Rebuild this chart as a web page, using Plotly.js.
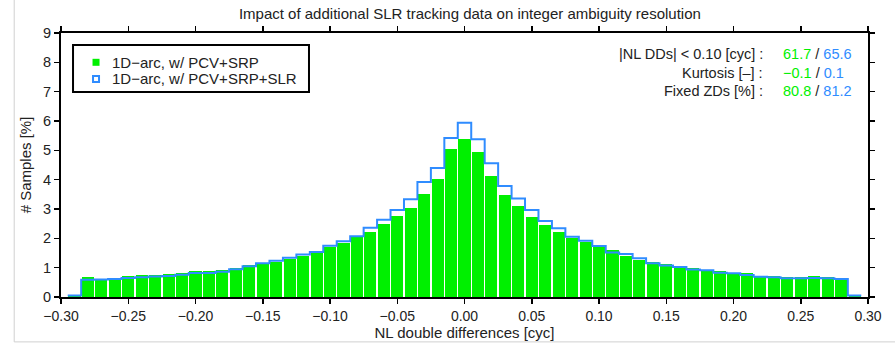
<!DOCTYPE html>
<html>
<head>
<meta charset="utf-8">
<script src="https://cdn.plot.ly/plotly-3.0.1.min.js"></script>
<style>html,body{margin:0;padding:0;background:#fff;}#chart{width:895px;height:348px;}</style>
</head>
<body>
<div id="chart"></div>
<script>
// Bin centres [cyc]
var binCenters = [-0.29,-0.28,-0.27,-0.26,-0.25,-0.24,-0.23,-0.22,-0.21,-0.20,
  -0.19,-0.18,-0.17,-0.16,-0.15,-0.14,-0.13,-0.12,-0.11,-0.10,
  -0.09,-0.08,-0.07,-0.06,-0.05,-0.04,-0.03,-0.02,-0.01,0.00,
  0.01,0.02,0.03,0.04,0.05,0.06,0.07,0.08,0.09,0.10,
  0.11,0.12,0.13,0.14,0.15,0.16,0.17,0.18,0.19,0.20,
  0.21,0.22,0.23,0.24,0.25,0.26,0.27,0.28,0.29];
var binWidth = 0.01;

// 1D-arc, w/ PCV+SRP  [% samples]
var pcvSrp = [0.03,0.68,0.62,0.62,0.72,0.75,0.76,0.78,0.81,0.87,
  0.88,0.91,1.00,1.10,1.12,1.20,1.30,1.41,1.52,1.72,
  1.83,2.04,2.20,2.48,2.77,3.05,3.50,4.01,5.03,5.37,
  4.95,4.12,3.48,3.10,2.72,2.45,2.20,2.02,1.89,1.72,
  1.60,1.41,1.26,1.20,1.11,1.07,1.00,0.93,0.89,0.83,
  0.81,0.73,0.70,0.67,0.69,0.70,0.67,0.64,0.03];

// 1D-arc, w/ PCV+SRP+SLR  [% samples]
var pcvSrpSlr = [0.05,0.59,0.60,0.61,0.65,0.67,0.70,0.72,0.76,0.82,
  0.82,0.86,0.95,1.05,1.15,1.24,1.34,1.45,1.53,1.75,
  1.90,2.07,2.36,2.63,2.97,3.33,3.92,4.40,5.42,5.94,
  5.38,4.56,3.78,3.36,2.97,2.59,2.34,2.05,1.92,1.74,
  1.52,1.47,1.32,1.15,1.07,1.02,0.94,0.91,0.83,0.81,
  0.75,0.69,0.67,0.64,0.64,0.65,0.64,0.61,0.05];

var seriesNames = ['1D\u2212arc, w/ PCV+SRP', '1D\u2212arc, w/ PCV+SRP+SLR'];
var xTickVals = [-0.30,-0.25,-0.20,-0.15,-0.10,-0.05,0.00,0.05,0.10,0.15,0.20,0.25,0.30];
var xTickText = ['\u22120.30','\u22120.25','\u22120.20','\u22120.15','\u22120.10','\u22120.05','0.00','0.05','0.10','0.15','0.20','0.25','0.30'];
var statLabels = ['|NL DDs| < 0.10 [cyc] :', 'Kurtosis [\u2013] :', 'Fixed ZDs [%] :'];
var statGreen = ['61.7', '\u22120.1', '80.8'];
var statBlue = ['65.6', '0.1', '81.2'];

var GREEN = '#00f000';
var BLUE = '#2f8cff';
var FONT = 'Liberation Sans, Arial, sans-serif';
var TXT = '#222';

// step outline for second series built from the bin edges
var stepX = [], stepY = [];
for (var i = 0; i < binCenters.length; i++) {
  stepX.push(binCenters[i] - binWidth / 2);
  stepY.push(pcvSrpSlr[i]);
}
stepX.push(binCenters[binCenters.length - 1] + binWidth / 2);
stepY.push(pcvSrpSlr[pcvSrpSlr.length - 1]);

var traces = [
  {type: 'bar', x: binCenters, y: pcvSrp, width: binWidth * 0.9, name: seriesNames[0],
   marker: {color: GREEN, line: {width: 0}}, showlegend: false},
  {type: 'scatter', mode: 'lines', x: stepX, y: stepY, name: seriesNames[1],
   line: {color: BLUE, width: 2, shape: 'hv'}, showlegend: false}
];

var annotations = [];
var rowY = [0.920, 0.850, 0.780];
for (var k = 0; k < statLabels.length; k++) {
  annotations.push({xref: 'paper', yref: 'paper', x: 0.872, y: rowY[k], xanchor: 'right', yanchor: 'middle',
    text: statLabels[k], showarrow: false, font: {family: FONT, size: 14.5, color: TXT}});
  annotations.push({xref: 'paper', yref: 'paper', x: 0.892, y: rowY[k], xanchor: 'left', yanchor: 'middle',
    text: '<span style="color:' + GREEN + '">' + statGreen[k] + '</span> / <span style="color:' + BLUE + '">' + statBlue[k] + '</span>',
    showarrow: false, font: {family: FONT, size: 14.5, color: TXT}});
}

// manual legend (box, symbols, labels)
var legX = 0.0434, legTextX = 0.0607, legRows = [0.889, 0.826];
annotations.push({xref: 'paper', yref: 'paper', x: legTextX, y: legRows[0], xanchor: 'left', yanchor: 'middle',
  text: seriesNames[0], showarrow: false, font: {family: FONT, size: 15, color: TXT}});
annotations.push({xref: 'paper', yref: 'paper', x: legTextX, y: legRows[1], xanchor: 'left', yanchor: 'middle',
  text: seriesNames[1], showarrow: false, font: {family: FONT, size: 15, color: TXT}});

var shapes = [
  {type: 'rect', xref: 'paper', yref: 'paper', x0: 0.0149, x1: 0.3073, y0: 0.7765, y1: 0.9545,
   line: {color: '#000', width: 2}, fillcolor: '#fff', layer: 'above'},
  {type: 'rect', xref: 'paper', yref: 'paper', xsizemode: 'pixel', ysizemode: 'pixel',
   xanchor: legX, yanchor: legRows[0], x0: -3.5, x1: 3.5, y0: -3.5, y1: 3.5,
   line: {width: 0}, fillcolor: GREEN, layer: 'above'},
  {type: 'rect', xref: 'paper', yref: 'paper', xsizemode: 'pixel', ysizemode: 'pixel',
   xanchor: legX, yanchor: legRows[1], x0: -3, x1: 3, y0: -3, y1: 3,
   line: {width: 2, color: BLUE}, fillcolor: '#fff', layer: 'above'},
  {type: 'line', xref: 'paper', yref: 'paper', x0: -0.058, x1: -0.058, y0: -0.17, y1: 1.13, line: {color: '#d0d0d0', width: 1}},
  {type: 'line', xref: 'paper', yref: 'paper', x0: -0.058, x1: 1.04, y0: -0.17, y1: -0.17, line: {color: '#d0d0d0', width: 1}}
];

var layout = {
  width: 895, height: 348,
  margin: {l: 61, r: 27, t: 33, b: 51},
  paper_bgcolor: '#fff', plot_bgcolor: '#fff',
  font: {family: FONT, size: 13, color: TXT},
  showlegend: false,
  title: {text: 'Impact of additional SLR tracking data on integer ambiguity resolution',
    font: {family: FONT, size: 15, color: TXT}, x: 0.525, xanchor: 'center', y: 0.96, yanchor: 'middle'},
  bargap: 0,
  xaxis: {range: [-0.30, 0.30], tickvals: xTickVals, ticktext: xTickText,
    showgrid: false, zeroline: false, showline: true, linecolor: '#000', linewidth: 2,
    mirror: 'allticks', ticks: 'outside', ticklen: 5, tickwidth: 1.5, tickcolor: '#000',
    tickfont: {family: FONT, size: 14, color: TXT},
    title: {text: 'NL double differences [cyc]', font: {family: FONT, size: 15, color: TXT}, standoff: 5}},
  yaxis: {range: [0, 9], dtick: 1, tick0: 0,
    showgrid: false, zeroline: false, showline: true, linecolor: '#000', linewidth: 2,
    mirror: 'allticks', ticks: 'outside', ticklen: 5, tickwidth: 1.5, tickcolor: '#000',
    tickfont: {family: FONT, size: 14.5, color: TXT},
    title: {text: '# Samples [%]', font: {family: FONT, size: 15, color: TXT}, standoff: 8}},
  annotations: annotations,
  shapes: shapes
};

Plotly.newPlot('chart', traces, layout, {displayModeBar: false, staticPlot: true});
</script>
</body>
</html>
